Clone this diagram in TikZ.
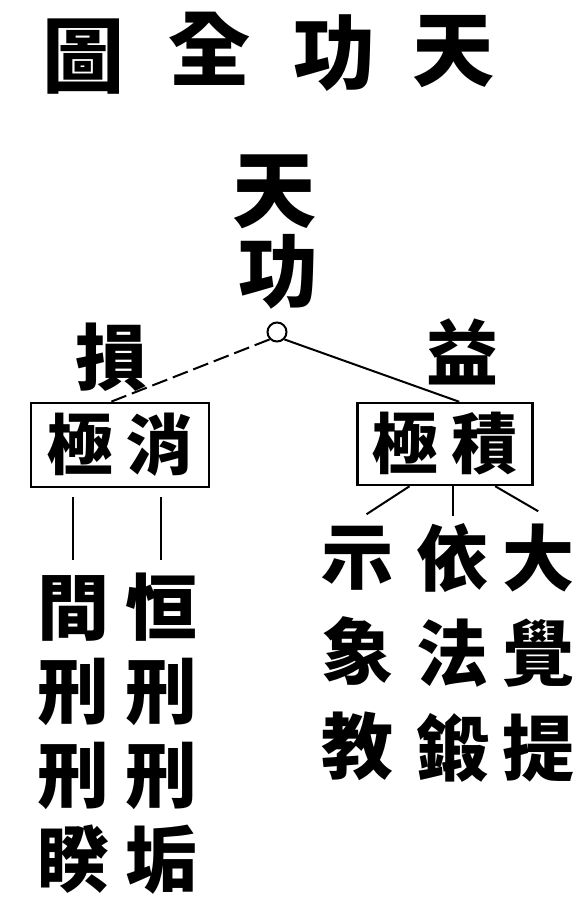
\documentclass[tikz,border=0pt]{standalone}
\usepackage{fontspec}
\setmainfont{Noto Sans CJK TC}
\usetikzlibrary{calc}
\tikzset{
  chr/.style={inner sep=0pt, font=\fontsize{#1}{#1}\selectfont\bfseries},
  col/.style={inner sep=0pt, align=center, font=\fontsize{72}{#1}\selectfont\bfseries},
  box/.style={draw, line width=2.5pt, inner sep=0pt, minimum width=#1, minimum height=84pt,
              font=\fontsize{66}{66}\selectfont\bfseries},
  conn/.style={line width=2pt},
}
\begin{document}
\begin{tikzpicture}[x=1pt,y=-1pt]
\useasboundingbox (0,0) rectangle (585,915);
\fill[white] (0,0) rectangle (585,915);
% title (printed right to left)
\node[chr=82] (t1) at (83,57) {圖};
\node[chr=82] (t2) at (209,49) {全};
\node[chr=82] (t3) at (334,53) {功};
\node[chr=82] (t4) at (453,52) {天};
% root
\node[chr=84] (r1) at (274,192) {天};
\node[chr=80] (r2) at (278,272) {功};
\node[draw, circle, line width=2pt, minimum size=19pt, inner sep=0pt] (o) at (277,332) {};
% branch labels
\node[chr=72] (sun) at (111,357) {損};
\node[chr=72] (yi) at (462,352) {益};
% boxes
\node[box=178pt] (lbox) at (120,445) {極\hspace{14pt}消};
\node[box=175pt, minimum height=82pt] (rbox) at (445,444) {極\hspace{14pt}積};
% connectors from apex
\draw[conn, dash pattern=on 16pt off 6pt] (o.south west) -- ($(lbox.north west)!0.45!(lbox.north east)$);
\draw[conn] (o.south east) -- ($(rbox.north west)!0.58!(rbox.north east)$);
% left columns
\node[col=84] (c1) at (73,734) {間\\刑\\刑\\睽};
\node[col=84] (c2) at (161,734) {恒\\刑\\刑\\垢};
\draw[conn] ([yshift=-9pt]lbox.south -| c1) -- ++(0,63);
\draw[conn] ([yshift=-9pt]lbox.south -| c2) -- ++(0,63);
% right columns
\node[col=95] (d1) at (357,653) {示\\象\\教};
\node[col=95] (d2) at (452,653) {依\\法\\鍛};
\node[col=95] (d3) at (538,653) {大\\覺\\提};
\coordinate (e1) at ($(rbox.south west)!0.3!(rbox.south east)$);
\coordinate (e2) at ($(rbox.south west)!0.543!(rbox.south east)$);
\coordinate (e3) at ($(rbox.south west)!0.783!(rbox.south east)$);
\draw[conn] (e1) -- ($(e1)+(-43,28)$);
\draw[conn] (e2) -- ($(e2)+(0,30)$);
\draw[conn] (e3) -- ($(e3)+(43,25)$);
\end{tikzpicture}
\end{document}
